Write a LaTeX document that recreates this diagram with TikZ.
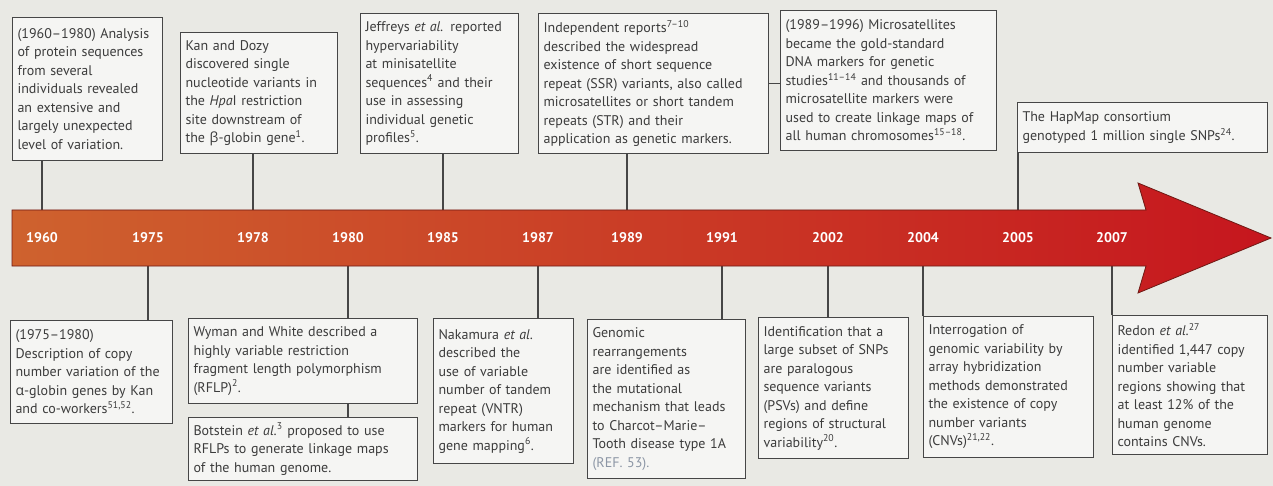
\documentclass[tikz,border=0pt]{standalone}
\usepackage{fontspec}
\setmainfont{PT Sans}
\newfontfamily\grk{Open Sans}
\usepackage{xcolor}
\definecolor{paper}{RGB}{233,233,228}
\definecolor{boxfill}{RGB}{245,245,243}
\definecolor{boxline}{RGB}{70,70,70}
\definecolor{inkgray}{RGB}{60,60,60}
\definecolor{bandL}{RGB}{206,98,46}
\definecolor{bandM}{RGB}{190,55,36}
\definecolor{bandR}{RGB}{198,22,30}
\definecolor{bandedge}{RGB}{110,25,20}
\definecolor{refgray}{RGB}{140,150,165}
\tikzset{
	evbox/.style={
		draw=boxline,
		fill=boxfill,
		line width=1.1pt,
		anchor=north west,
		inner xsep=5pt,
		inner ysep=4pt,
		align=left,
		text=inkgray,
		font=\fontsize{14}{18.5}\selectfont
	},
	yearlbl/.style={
		text=white,
		font=\fontsize{14}{14}\selectfont\bfseries
	},
	link/.style={draw=boxline, line width=1.1pt}
}

\begin{document}
\begin{tikzpicture}[x=1pt,y=-1pt]
	\useasboundingbox (0,0) rectangle (1273,486);
	\fill[paper] (0,0) rectangle (1273,486);

	% points on the time axis
	\foreach \yr/\xx in {1960/42,1975/148,1978/253,1980/348,1985/443,1987/538,1989/627,1991/722,2002/828,2004/923,2005/1018,2007/1112}
		\coordinate (y\yr) at (\xx,238);

	% events above the axis
	\node[evbox,text width=140pt,minimum height=143pt] (b1960) at (12,17) {(1960--1980) Analysis\\of protein sequences\\from several\\individuals revealed\\an extensive and\\largely unexpected\\level of variation.};
	\node[evbox,text width=147pt,minimum height=121pt] (b1978) at (180,32) {Kan and Dozy\\discovered single\\nucleotide variants in\\the \textit{Hpa}I restriction\\site downstream of\\the {\grk β}-globin gene\textsuperscript{1}.};
	\node[evbox,text width=148pt,minimum height=140pt] (b1985) at (360,13) {Jeffreys \textit{et al.} reported\\hypervariability\\at minisatellite\\sequences\textsuperscript{4} and their\\use in assessing\\individual genetic\\profiles\textsuperscript{5}.};
	\node[evbox,text width=220pt,minimum height=140pt] (b1989) at (538,13) {Independent reports\textsuperscript{7--10}\\described the widespread\\existence of short sequence\\repeat (SSR) variants, also called\\microsatellites or short tandem\\repeats (STR) and their\\application as genetic markers.};
	\node[evbox,text width=206pt,minimum height=140pt] (bmicro) at (780,10) {(1989--1996) Microsatellites\\became the gold-standard\\DNA markers for genetic\\studies\textsuperscript{11--14} and thousands of\\microsatellite markers were\\used to create linkage maps of\\all human chromosomes\textsuperscript{15--18}.};
	\node[evbox,text width=240pt,minimum height=50pt] (b2005) at (1017,102) {The HapMap consortium\\genotyped 1 million single SNPs\textsuperscript{24}.};

	% events below the axis
	\node[evbox,text width=152pt,minimum height=103pt] (b1975) at (10,320) {(1975--1980)\\Description of copy\\number variation of the\\{\grk α}-globin genes by Kan\\and co-workers\textsuperscript{51,52}.};
	\node[evbox,text width=219pt,minimum height=85pt] (b1980) at (188,318) {Wyman and White described a\\highly variable restriction\\fragment length polymorphism\\(RFLP)\textsuperscript{2}.};
	\node[evbox,text width=219pt,minimum height=63pt] (bbot) at (188,417) {Botstein \textit{et al.}\textsuperscript{3} proposed to use\\RFLPs to generate linkage maps\\of the human genome.};
	\node[evbox,text width=130pt,minimum height=145pt] (b1987) at (433,318) {Nakamura \textit{et al.}\\described the\\use of variable\\number of tandem\\repeat (VNTR)\\markers for human\\gene mapping\textsuperscript{6}.};
	\node[evbox,text width=148pt,minimum height=159pt] (b1991) at (587,319) {Genomic\\rearrangements\\are identified as\\the mutational\\mechanism that leads\\to Charcot--Marie--\\Tooth disease type 1A\\{\color{refgray}(REF.~53).}};
	\node[evbox,text width=140pt,minimum height=141pt] (b2002) at (758,317) {Identification that a\\large subset of SNPs\\are paralogous\\sequence variants\\(PSVs) and define\\regions of structural\\variability\textsuperscript{20}.};
	\node[evbox,text width=160pt,minimum height=141pt] (b2004) at (923,316) {Interrogation of\\genomic variability by\\array hybridization\\methods demonstrated\\the existence of copy\\number variants\\(CNVs)\textsuperscript{21,22}.};
	\node[evbox,text width=145pt,minimum height=139pt] (b2007) at (1112,315) {Redon \textit{et al.}\textsuperscript{27}\\identified 1,447 copy\\number variable\\regions showing that\\at least 12\% of the\\human genome\\contains CNVs.};

	% connectors
	\foreach \yr in {1960,1978,1985,1989,2005}
		\draw[link] (b\yr.south -| y\yr) -- (y\yr);
	\foreach \yr in {1975,1980,1987,1991,2002,2004,2007}
		\draw[link] (b\yr.north -| y\yr) -- (y\yr);
	\draw[link] (b1980.south -| y1980) -- (bbot.north -| y1980);
	\draw[link] (b1989.east) -- (bmicro.west |- b1989.east);

	% the time arrow
	\shade[left color=bandL,middle color=bandM,right color=bandR,draw=bandedge,line width=0.8pt]
		(12,210) -- (1146,210) -- (1138,183) -- (1271,238) -- (1138,293) -- (1146,266) -- (12,266) -- cycle;

	\foreach \yr in {1960,1975,1978,1980,1985,1987,1989,1991,2002,2004,2005,2007}
		\node[yearlbl] (l\yr) at (y\yr) {\yr};
\end{tikzpicture}
\end{document}
